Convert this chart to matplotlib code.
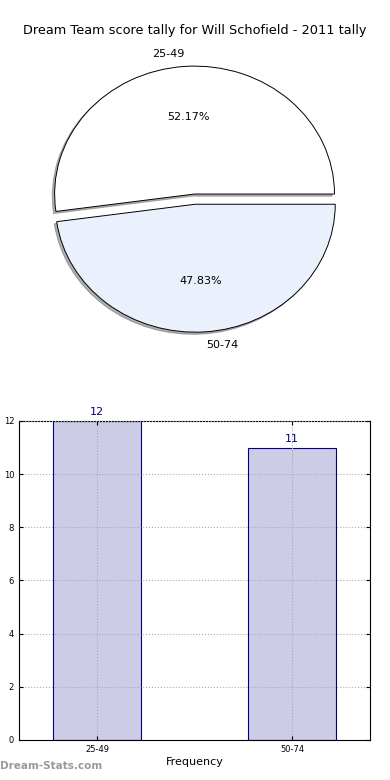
import matplotlib
matplotlib.use('Agg')
import matplotlib.pyplot as plt
import numpy as np

title = "Dream Team score tally for Will Schofield - 2011 tally"
categories = ['25-49', '50-74']
counts = [12, 11]
pie_colors = ['#ffffff', '#eaf0fc']
explode = [0.04, 0.04]

fig = plt.figure(figsize=(3.9, 7.8), dpi=100)

# pie
ax1 = fig.add_axes([0.0513, 0.5397, 0.897, 0.410])
wedges, texts, autotexts = ax1.pie(counts, labels=categories, colors=pie_colors,
                                   explode=explode, autopct='%.2f%%',
                                   shadow={'ox': -0.012, 'oy': -0.012, 'shade': 0.6},
                                   wedgeprops={'edgecolor': 'black', 'linewidth': 0.7},
                                   textprops={'fontsize': 8})
ax1.set_aspect('auto')
ax1.set_xlim(-1.25, 1.25)
ax1.set_ylim(-1.25, 1.25)
fig.text(0.5, 0.9615, title, ha='center', va='center', fontsize=9.3)

# bars
ax2 = fig.add_axes([0.0487, 0.0513, 0.9, 0.409])
x = np.arange(len(categories))
bars = ax2.bar(x, counts, width=0.45, color='#cccce6', edgecolor='navy', linewidth=0.8, zorder=2)
for xi, c in zip(x, counts):
    ax2.text(xi, c + 0.15, str(c), ha='center', va='bottom', color='navy', fontsize=8)
ax2.set_xlim(-0.4, 1.4)
ax2.set_ylim(0, 12)
ax2.set_xticks(x)
ax2.set_xticklabels(categories)
ax2.set_yticks(range(0, 13, 2))
ax2.tick_params(direction='in', top=True, right=True, labelsize=6, length=3)
ax2.grid(True, linestyle=':', color='#aaaaaa', linewidth=0.8, zorder=3)
ax2.set_axisbelow(False)
ax2.set_xlabel('Frequency', fontsize=8, labelpad=2)
ax2.set_ylabel('Scores in tally', fontsize=7, labelpad=4)

fig.text(0.0, 0.012, 'Dream-Stats.com', color='#999999', fontsize=7.5, fontweight='bold',
         ha='left', va='bottom')

fig.savefig('out.png', dpi=100)
